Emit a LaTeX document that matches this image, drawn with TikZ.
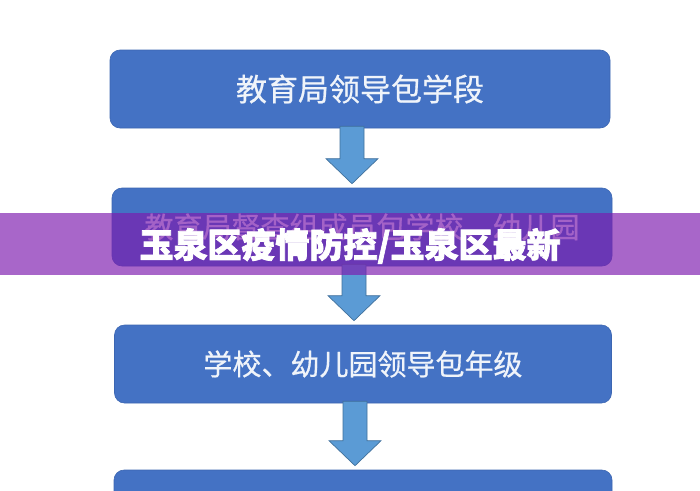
\documentclass[tikz,border=0pt]{standalone}
\usepackage{fontspec}
\newfontfamily\cjk{Noto Sans CJK SC}[FakeBold=0.6]
\newfontfamily\cjkheavy{Noto Sans CJK SC}[FakeBold=2.2]
\usetikzlibrary{calc}
\definecolor{boxblue}{RGB}{68,114,196}
\definecolor{boxline}{RGB}{60,102,178}
\definecolor{arrfill}{RGB}{91,155,213}
\definecolor{arrline}{RGB}{65,113,156}
\definecolor{bannerpurple}{RGB}{126,27,175}
\definecolor{boxtext}{RGB}{240,244,250}
\tikzset{
  flowbox/.style={draw=boxline, line width=0.6pt, fill=boxblue, rounded corners=10pt,
    minimum width=500pt, minimum height=78pt, inner sep=0pt, text=boxtext},
  fatarrow/.style={draw=arrline, line width=0.7pt, fill=arrfill},
  banner/.style={fill=bannerpurple, fill opacity=0.67, draw=none},
  bannertext/.style={text=white, font=\cjkheavy\bfseries\fontsize{34}{34}\selectfont, inner sep=0pt}
}
\newcommand{\flowarrow}[2]{%
  \path[fatarrow] let \p1=(#1.south), \p2=(#2.north) in
    (\x1-20pt,\y1+2pt) -- (\x1-20pt,\y2+29pt) -- (\x1-34pt,\y2+29pt) -- (\x1-8pt,\y2+4pt)
    -- (\x1+18pt,\y2+29pt) -- (\x1+4pt,\y2+29pt) -- (\x1+4pt,\y1+2pt) -- cycle;}
\begin{document}
\begin{tikzpicture}[x=1pt,y=-1pt]
\useasboundingbox (0,0) rectangle (700,490);
\clip (0,0) rectangle (700,490);
\fill[white] (0,0) rectangle (700,490);
\coordinate (c1) at (360,89);
\coordinate (c2) at (362,227);
\coordinate (c3) at (363,364);
\coordinate (c4) at (363,509);
\node[flowbox, font=\cjk\fontsize{31}{31}\selectfont] (b1) at (c1) {教育局领导包学段};
\node[flowbox, font=\cjk\fontsize{29}{29}\selectfont] (b2) at (c2) {教育局督查组成员包学校、幼儿园};
\node[flowbox, minimum width=497pt, font=\cjk\fontsize{29}{29}\selectfont] (b3) at (c3) {学校、幼儿园领导包年级};
\node[flowbox, minimum width=498pt] (b4) at (c4) {};
\flowarrow{b1}{b2}
\flowarrow{b2}{b3}
\flowarrow{b3}{b4}
% banner overlay
\path[banner] (0,213) rectangle (700,275);
\node[bannertext] (bt) at (350,246) {玉泉区疫情防控/玉泉区最新};
\end{tikzpicture}
\end{document}
